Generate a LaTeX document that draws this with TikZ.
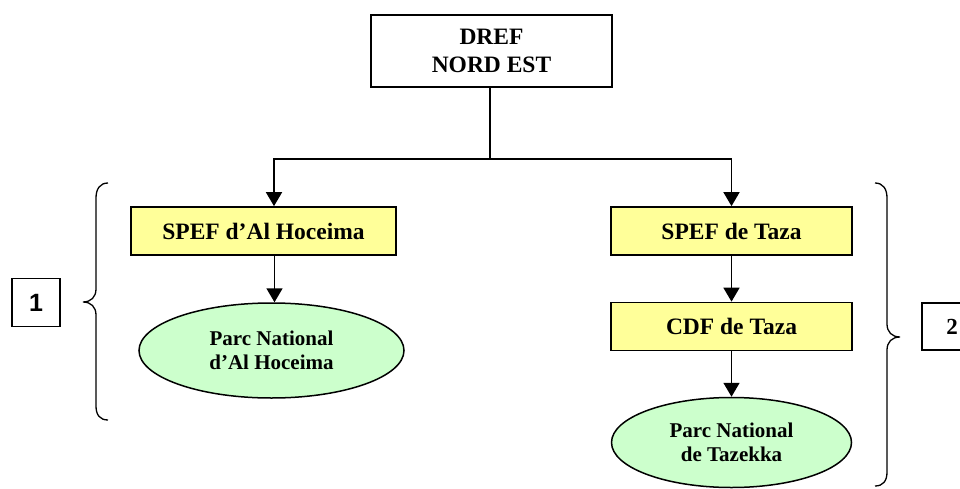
\documentclass[tikz,border=0pt]{standalone}
\usepackage{fontspec}
\setmainfont{Liberation Serif}
\newfontfamily\tagsans{Liberation Sans}
\usepackage{xcolor}
\usetikzlibrary{arrows.meta,positioning,shapes.geometric}

\definecolor{spefyellow}{HTML}{FFFF99}
\definecolor{parkgreen}{HTML}{CCFFCC}

\begin{document}
\begin{tikzpicture}[
  x=1pt, y=-1pt,
  office/.style={draw, line width=1.7pt, fill=spefyellow, minimum width=241pt,
    minimum height=48pt, inner sep=0pt,
    font=\fontsize{23.5}{27}\selectfont\bfseries},
  park/.style={draw, ellipse, line width=1.5pt, fill=parkgreen, inner sep=0pt,
    align=center, font=\fontsize{21}{24.5}\selectfont\bfseries},
  tag/.style={draw, line width=1.5pt, minimum width=48pt, minimum height=48pt,
    inner sep=0pt},
  line width=1.7pt, >={Triangle[length=14pt,width=16pt]}
]
\useasboundingbox (0,0) rectangle (960,489);
\clip (0,0) rectangle (960,489);

\node[draw, line width=1.7pt, minimum width=241pt, minimum height=72pt,
  align=center, font=\fontsize{23.5}{28}\selectfont\bfseries]
  (dref) at (491.5,51) {DREF\\NORD EST};
\coordinate (bus) at (490,159);

\node[office, minimum width=265pt] (spefh) at (263.5,231) {SPEF d'Al Hoceima};
\node[park, minimum width=265pt, minimum height=95pt] (pnh) at (271.5,350.5)
  {Parc National\\d'Al Hoceima};

\node[office] (speft) at (731.5,231) {SPEF de Taza};
\node[office] (cdf) at (731.5,326.5) {CDF de Taza};
\node[park, minimum width=240pt, minimum height=90pt] (pnt) at (731.5,442.5)
  {Parc National\\de Tazekka};

\node[tag, font=\tagsans\fontsize{25}{25}\selectfont\bfseries] (one) at (36,302.5) {1};
\node[tag, minimum width=60pt, minimum height=47pt,
  font=\fontsize{23}{23}\selectfont\bfseries] (two) at (952,326.5) {2};

% links
\draw (dref.south -| bus) -- (bus);
\draw[->] (bus) -| ([xshift=10.5pt]spefh.north);
\draw[->] (bus) -| (speft.north);
\draw[->] ([xshift=11pt]spefh.south) -- ([xshift=11pt]spefh.south |- pnh.north);
\draw[->] (speft) -- (cdf);
\draw[->] (cdf) -- (pnt);

% braces
\draw[line width=1.3pt] (108,183) .. controls (100,183) and (96,189) .. (96,198)
  -- (96,289) .. controls (96,297) and (91,302) .. (83,302)
  .. controls (91,302) and (96,307) .. (96,315)
  -- (96,406) .. controls (96,415) and (100,420) .. (108,420);
\draw[line width=1.3pt] (875,183) .. controls (883,183) and (887,189) .. (887,198)
  -- (887,324) .. controls (887,332) and (892,337) .. (900,337)
  .. controls (892,337) and (887,342) .. (887,350)
  -- (887,472) .. controls (887,481) and (883,486) .. (875,486);
\end{tikzpicture}
\end{document}
